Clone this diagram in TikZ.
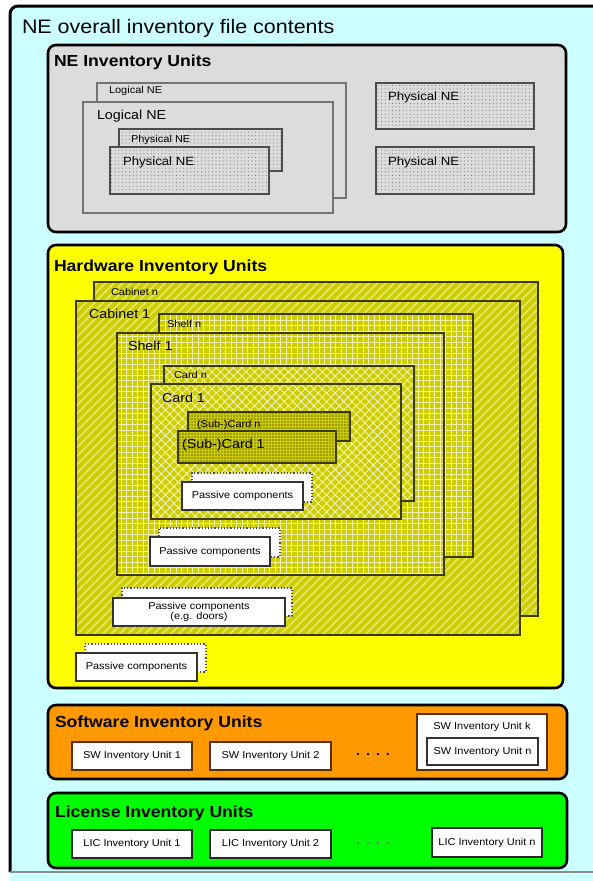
\documentclass[tikz,border=0pt]{standalone}
\usepackage{fontspec}
\setmainfont[FakeStretch=1.1]{Liberation Sans}
\usetikzlibrary{patterns.meta,fit}

\definecolor{framecyan}{HTML}{CCFFFF}
\definecolor{negray}{HTML}{DCDCDC}
\definecolor{hwyellow}{HTML}{FFFF00}
\definecolor{olivebase}{HTML}{CDCD00}
\definecolor{olivelight}{HTML}{E8E870}
\definecolor{olivegrid}{HTML}{F4F4B8}
\definecolor{oliveline}{HTML}{3A3A00}
\definecolor{sworange}{HTML}{FF9900}
\definecolor{licgreen}{HTML}{00FF00}
\definecolor{swedge}{HTML}{5A3000}

\newcommand{\fs}[1]{\fontsize{#1}{#1}\selectfont}

\begin{document}
\begin{tikzpicture}[x=1pt,y=-1pt,
  every node/.style={inner sep=0pt,outer sep=0pt},
  group/.style={draw=black,line width=2.6pt,rounded corners=8pt},
  grouptitle/.style={anchor=base west,font=\fs{16}\bfseries},
  lbl/.style={anchor=base west},
  logne/.style={draw=black!55,line width=1.4pt,fill=negray},
  phyne/.style={draw=black!70,line width=1.4pt,preaction={fill=negray},
    pattern={Dots[radius=0.55pt,distance=3.6pt]},pattern color=black!55},
  hwbox/.style={draw=oliveline,line width=1.4pt},
  cabinet/.style={hwbox,preaction={fill=olivebase},
    pattern={Lines[angle=45,distance=6pt,line width=1.6pt]},pattern color=olivelight},
  shelf/.style={hwbox,preaction={fill=olivebase},
    pattern={Hatch[angle=0,distance=5.5pt,line width=0.9pt]},pattern color=olivegrid},
  card/.style={hwbox,preaction={fill=olivebase},
    pattern={Hatch[angle=45,distance=6pt,line width=0.9pt]},pattern color=olivegrid},
  subcard/.style={hwbox,preaction={fill=olivebase},
    pattern={Dots[radius=0.6pt,distance=3pt]},pattern color=black},
  passback/.style={draw=black!70,line width=1.2pt,dotted,fill=white},
  passfront/.style={draw=black!80,line width=1.5pt,fill=white},
  passtext/.style={font=\fs{10},align=center},
  unitbox/.style={fill=white,line width=1.5pt},
  unittext/.style={font=\fs{10}},
  ellipsis/.style={font=\fs{13}\bfseries}
]
\useasboundingbox (0,0) rectangle (593,881);

% page and outer frame
\fill[white] (0,0) rectangle (593,881);
\node[fill=framecyan,fit={(10,6) (593,881)}] (frame) {};
\draw[line width=3pt,rounded corners=8pt] (10,872) -- (10,6) -- (600,6);
\draw[black!45,line width=1.5pt] (10,872) -- (593,872);
\node[anchor=base west,font=\fs{19.5}] (frametitle) at (22,33) {NE overall inventory file contents};

% ---------------- NE inventory units
\node[group,fill=negray,fit={(48,45) (566,232)}] (neunits) {};
\node[grouptitle] (netitle) at (54,66) {NE Inventory Units};

\node[logne,fit={(97,83) (346,198)}] (lognen) {};
\node[lbl,font=\fs{10}] (lognenlbl) at (109,93) {Logical NE};
\node[logne,fit={(83,102) (333,213)}] (logne1) {};
\node[lbl,font=\fs{13}] (logne1lbl) at (97,119) {Logical NE};

\node[phyne,fit={(119,129) (282,171)}] (phynen) {};
\node[lbl,font=\fs{10}] (phynenlbl) at (131,142) {Physical NE};
\node[phyne,fit={(110,147) (269,194)}] (phyne1) {};
\node[lbl,font=\fs{12}] (phyne1lbl) at (123,165) {Physical NE};

\node[phyne,fit={(376,83) (534,129)}] (phynea) {};
\node[lbl,font=\fs{12}] (phynealbl) at (388,100) {Physical NE};
\node[phyne,fit={(376,147) (534,194)}] (phyneb) {};
\node[lbl,font=\fs{12}] (phyneblbl) at (388,165) {Physical NE};

% ---------------- Hardware inventory units
\node[group,fill=hwyellow,fit={(48,245) (563,688)}] (hwunits) {};
\node[grouptitle] (hwtitle) at (54,271) {Hardware Inventory Units};

\node[cabinet,fit={(94,282) (538,616)}] (cabn) {};
\node[lbl,font=\fs{10}] (cabnlbl) at (111,295) {Cabinet n};
\node[cabinet,fit={(76,301) (520,635)}] (cab1) {};
\node[lbl,font=\fs{13}] (cab1lbl) at (89,318) {Cabinet 1};

\node[shelf,fit={(159,314) (473,557)}] (shelfn) {};
\node[lbl,font=\fs{10}] (shelfnlbl) at (167,327) {Shelf n};
\node[shelf,fit={(117,333) (444,575)}] (shelf1) {};
\node[lbl,font=\fs{13}] (shelf1lbl) at (128,350) {Shelf 1};

\node[card,fit={(164,366) (414,501)}] (cardn) {};
\node[lbl,font=\fs{10}] (cardnlbl) at (174,378) {Card n};
\node[card,fit={(151,384) (401,519)}] (card1) {};
\node[lbl,font=\fs{13}] (card1lbl) at (162,402) {Card 1};

\node[subcard,fit={(188,412) (350,441)}] (subn) {};
\node[lbl,font=\fs{10}] (subnlbl) at (197,427) {(Sub-)Card n};
\node[subcard,fit={(178,431) (336,463)}] (sub1) {};
\node[lbl,font=\fs{13}] (sub1lbl) at (182,448) {(Sub-)Card 1};

% passive components on each level
\node[passback,fit={(192,473) (312,502)}] (pcardb) {};
\node[passfront,fit={(182,482) (303,510)}] (pcard) {};
\node[passtext] at (pcard) {Passive components};

\node[passback,fit={(159,528) (280,557)}] (pshelfb) {};
\node[passfront,fit={(150,537) (270,566)}] (pshelf) {};
\node[passtext] at (pshelf) {Passive components};

\node[passback,fit={(122,588) (292,616)}] (pcabb) {};
\node[passfront,fit={(113,598) (285,626)}] (pcab) {};
\node[passtext] at (pcab) {Passive components\\(e.g. doors)};

\node[passback,fit={(85,644) (206,672)}] (phwb) {};
\node[passfront,fit={(76,653) (197,681)}] (phw) {};
\node[passtext] at (phw) {Passive components};

% ---------------- Software inventory units
\node[group,fill=sworange,fit={(48,705) (567,779)}] (swunits) {};
\node[grouptitle] (swtitle) at (55,727) {Software Inventory Units};

\node[unitbox,draw=swedge,fit={(72,742) (192,770)}] (sw1) {};
\node[unittext] at (sw1) {SW Inventory Unit 1};
\node[unitbox,draw=swedge,fit={(210,742) (331,770)}] (sw2) {};
\node[unittext] at (sw2) {SW Inventory Unit 2};
\node[ellipsis] (swdots) at (373,755) {.\hspace{6pt}.\hspace{6pt}.\hspace{6pt}.};
\node[unitbox,draw=swedge,fit={(417,714) (547,770)}] (swk) {};
\node[unittext,anchor=base] (swklbl) at (482,729) {SW Inventory Unit k};
\node[unitbox,draw=black!80,fit={(427,738) (538,765)}] (swn) {};
\node[unittext] at (swn) {SW Inventory Unit n};

% ---------------- License inventory units
\node[group,fill=licgreen,fit={(48,793) (567,868)}] (licunits) {};
\node[grouptitle] (lictitle) at (55,817) {License Inventory Units};

\node[unitbox,draw=black!85,fit={(72,830) (192,858)}] (lic1) {};
\node[unittext] at (lic1) {LIC Inventory Unit 1};
\node[unitbox,draw=black!85,fit={(210,830) (331,858)}] (lic2) {};
\node[unittext] at (lic2) {LIC Inventory Unit 2};
\node[ellipsis,text=black!55] (licdots) at (373,844) {.\hspace{6pt}.\hspace{6pt}.\hspace{6pt}.};
\node[unitbox,draw=black!85,fit={(432,828) (542,857)}] (licn) {};
\node[unittext] at (licn) {LIC Inventory Unit n};
\end{tikzpicture}
\end{document}
